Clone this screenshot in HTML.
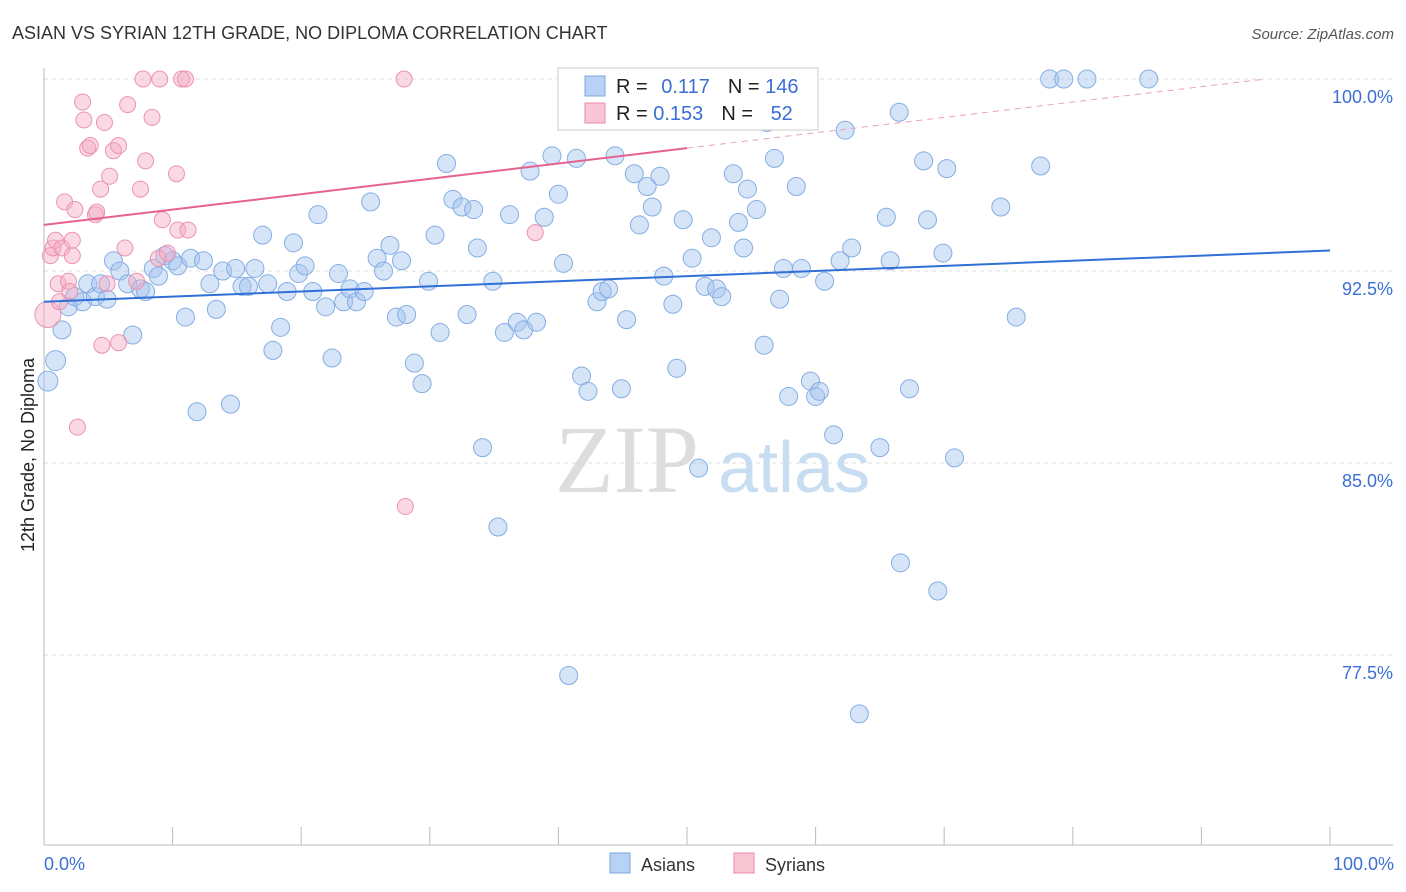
<!DOCTYPE html>
<html><head><meta charset="utf-8"><style>
body{margin:0;background:#fff;font-family:"Liberation Sans",sans-serif;}
#wrap{position:relative;width:1406px;height:892px;overflow:hidden;}
</style></head><body>
<div id="wrap">
<svg id="chart" width="1406" height="892" xmlns="http://www.w3.org/2000/svg">
<text x="12" y="39" font-size="18" fill="#333">ASIAN VS SYRIAN 12TH GRADE, NO DIPLOMA CORRELATION CHART</text>
<text x="1394" y="39" font-size="15" font-style="italic" fill="#555" text-anchor="end">Source: ZipAtlas.com</text>
<g id="grid"></g>
<text x="555" y="492" font-size="96" font-family="Liberation Serif,serif" fill="#ddd">ZIP</text>
<text x="718" y="492" font-size="72" fill="#c8dcf2">atlas</text>
<g id="marks"></g>
<text transform="translate(34,455) rotate(-90)" font-size="18" fill="#222" text-anchor="middle">12th Grade, No Diploma</text>
<text x="44" y="870" font-size="18" fill="#3b6fd6">0.0%</text>
<text x="1394" y="870" font-size="18" fill="#3b6fd6" text-anchor="end">100.0%</text>
<rect x="558" y="68" width="260" height="62" fill="#fff" stroke="#ccc"/>
<rect x="585" y="76" width="20" height="20" fill="#b8d2f5" stroke="#7ba7e0"/>
<rect x="585" y="103" width="20" height="20" fill="#f9c6d6" stroke="#e98aab"/>
<text x="616" y="93" font-size="20" fill="#222">R = <tspan fill="#3b6fd6" dx="8">0.117</tspan><tspan fill="#222" dx="18">N = </tspan><tspan fill="#3b6fd6">146</tspan></text>
<text x="616" y="120" font-size="20" fill="#222">R = <tspan fill="#3b6fd6">0.153</tspan><tspan fill="#222" dx="18">N = </tspan><tspan fill="#3b6fd6" dx="12">52</tspan></text>
<rect x="610" y="853" width="20" height="20" fill="#b8d2f5" stroke="#7ba7e0"/>
<text x="641" y="871" font-size="18" fill="#333">Asians</text>
<rect x="734" y="853" width="20" height="20" fill="#f9c6d6" stroke="#e98aab"/>
<text x="765" y="871" font-size="18" fill="#333">Syrians</text>
</svg>
</div>
<script>
const yTicks=[100,92.5,85,77.5];
const yTickLabels=["100.0%","92.5%","85.0%","77.5%"];
const xTicks=[0,10,20,30,40,50,60,70,80,90,100];
const asianX=[0.3,0.9,1.4,1.9,2.4,3.0,3.4,4.0,4.4,4.9,5.4,5.9,6.5,6.9,7.5,7.9,8.5,8.9,9.4,10.0,10.4,11.0,11.4,11.9,12.4,12.9,13.4,13.9,14.5,14.9,15.4,15.9,16.4,17.0,17.4,17.8,18.4,18.9,19.4,19.8,20.3,20.9,21.3,21.9,22.4,22.9,23.3,23.8,24.3,24.9,25.4,25.9,26.4,26.9,27.4,27.8,28.2,28.8,29.4,29.9,30.4,30.8,31.3,31.8,32.5,32.9,33.4,33.7,34.1,34.9,35.3,35.8,36.2,36.8,37.3,37.8,38.3,38.9,39.5,40.0,40.4,40.8,41.4,41.8,42.3,43.0,43.4,43.9,44.4,44.9,45.3,45.9,46.3,46.9,47.3,47.9,48.2,48.9,49.2,49.7,50.4,50.9,51.4,51.9,52.3,52.7,53.6,54.0,54.4,54.7,55.4,56.0,56.2,56.8,57.2,57.5,57.9,58.5,58.9,59.6,60.0,60.3,60.7,61.4,61.9,62.3,62.8,63.4,65.0,65.5,65.8,66.5,66.6,67.3,68.4,68.7,69.5,69.9,70.2,70.8,74.4,75.6,77.5,78.2,79.3,81.1,85.9];
const asianY=[88.2,89.0,90.2,91.1,91.5,91.3,92.0,91.5,92.0,91.4,92.9,92.5,92.0,90.0,91.8,91.7,92.6,92.3,93.1,92.9,92.7,90.7,93.0,87.0,92.9,92.0,91.0,92.5,87.3,92.6,91.9,91.9,92.6,93.9,92.0,89.4,90.3,91.7,93.6,92.4,92.7,91.7,94.7,91.1,89.1,92.4,91.3,91.8,91.3,91.7,95.2,93.0,92.5,93.5,90.7,92.9,90.8,88.9,88.1,92.1,93.9,90.1,96.7,95.3,95.0,90.8,94.9,93.4,85.6,92.1,82.5,90.1,94.7,90.5,90.2,96.4,90.5,94.6,97.0,95.5,92.8,76.7,96.9,88.4,87.8,91.3,91.7,91.8,97.0,87.9,90.6,96.3,94.3,95.8,95.0,96.2,92.3,91.2,88.7,94.5,93.0,84.8,91.9,93.8,91.8,91.5,96.3,94.4,93.4,95.7,94.9,89.6,98.3,96.9,91.4,92.6,87.6,95.8,92.6,88.2,87.6,87.8,92.1,86.1,92.9,98.0,93.4,75.2,85.6,94.6,92.9,98.7,81.1,87.9,96.8,94.5,80.0,93.2,96.5,85.2,95.0,90.7,96.6,100,100,100,100];
const syrianX=[0.3,0.5,0.7,0.9,1.1,1.2,1.4,1.6,1.9,2.0,2.2,2.2,2.4,2.6,3.0,3.1,3.4,3.6,4.0,4.1,4.4,4.5,4.7,4.9,5.1,5.4,5.8,5.8,6.3,6.5,7.2,7.5,7.7,7.9,8.4,8.9,9.0,9.2,9.6,10.3,10.4,10.7,11.0,11.2,28.0,28.1,38.2,47.1];
const syrianY=[90.8,93.1,93.4,93.7,92.0,91.3,93.4,95.2,92.1,91.7,93.1,93.7,94.9,86.4,99.1,98.4,97.3,97.4,94.7,94.8,95.7,89.6,98.3,92.0,96.2,97.2,97.4,89.7,93.4,99.0,92.1,95.7,100,96.8,98.5,93.0,100,94.5,93.2,96.3,94.1,100,100,94.1,100,83.3,94.0,100];
const asianTrend=[91.3,93.3];
const syrianTrend=[94.3,97.3];
const NS="http://www.w3.org/2000/svg";
function xs(v){return 44+v*12.86;}
function ys(v){return 79+(100-v)*25.6;}
const grid=document.getElementById('grid'),marks=document.getElementById('marks'),svg=document.getElementById('chart');
function mk(tag,attrs,parent){const e=document.createElementNS(NS,tag);for(const k in attrs)e.setAttribute(k,attrs[k]);parent.appendChild(e);return e;}
yTicks.forEach((t,i)=>{
const l=mk('line',{x1:44,x2:1393,y1:ys(t),y2:ys(t),stroke:'#ddd','stroke-dasharray':'4,4'},grid);


const tx=mk('text',{x:1393,y:ys(t)+24,'font-size':18,fill:'#3b6fd6','text-anchor':'end'},grid);
tx.textContent=yTickLabels[i];


});
const ax=mk('line',{x1:44,x2:44,y1:68,y2:845,stroke:'#bbb'},grid);


const bx=mk('line',{x1:44,x2:1393,y1:845,y2:845,stroke:'#bbb'},grid);


xTicks.forEach(t=>{
const l=mk('line',{x1:xs(t),x2:xs(t),y1:827,y2:845,stroke:'#bbb'},grid);


});
asianX.forEach((x,i)=>{
const c=mk('circle',{cx:xs(x),cy:ys(asianY[i]),r:(i<2?10:9),fill:'rgba(164,196,240,0.45)',stroke:'#85aee3','stroke-width':1},marks);


});
syrianX.forEach((x,i)=>{
const c=mk('circle',{cx:xs(x),cy:ys(syrianY[i]),r:(i===0?13:8),fill:'rgba(245,170,195,0.45)',stroke:'#eb93b2','stroke-width':1},marks);


});
const at=mk('line',{x1:xs(0),y1:ys(asianTrend[0]),x2:xs(100),y2:ys(asianTrend[1]),stroke:'#2f6fd6','stroke-width':2},marks);


const st=mk('line',{x1:xs(0),y1:ys(syrianTrend[0]),x2:xs(50),y2:ys(syrianTrend[1]),stroke:'#e5628f','stroke-width':2},marks);


const slope=(syrianTrend[1]-syrianTrend[0])/50;
const xEnd=Math.min(100,(100-syrianTrend[0])/slope);
const sd=mk('line',{x1:xs(50),y1:ys(syrianTrend[1]),x2:xs(xEnd),y2:ys(syrianTrend[0]+slope*xEnd),stroke:'#e9a0b9','stroke-width':1,'stroke-dasharray':'6,5'},marks);


</script>
</body></html>
